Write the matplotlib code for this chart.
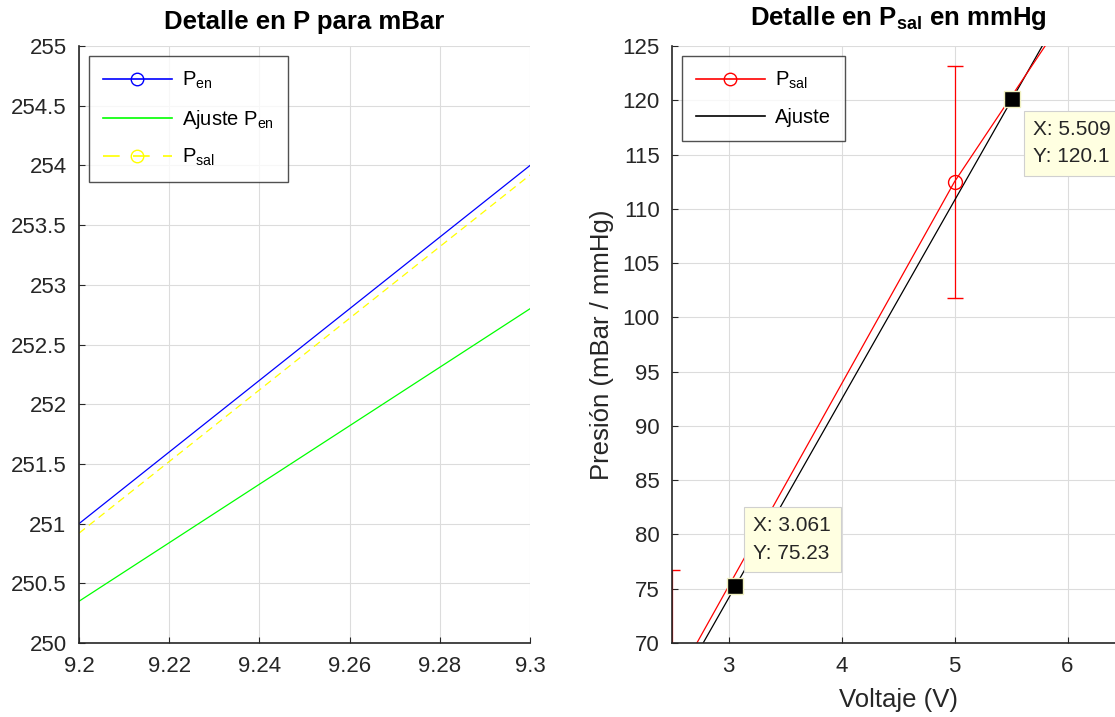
import numpy as np
import matplotlib
matplotlib.use("Agg")
import matplotlib.pyplot as plt
from matplotlib.lines import Line2D

plt.rcParams["font.family"] = ["Liberation Sans", "DejaVu Sans"]
plt.rcParams["mathtext.fontset"] = "custom"
plt.rcParams["mathtext.rm"] = "Liberation Sans"
plt.rcParams["mathtext.bf"] = "Liberation Sans:bold"

# --- izquierda: detalle en mBar
x_izq = [9.2, 9.3]
p_en = [251.0, 254.0]
ajuste_p_en = [250.35, 252.8]
p_sal_mbar = [250.92, 253.92]

# --- derecha: detalle en mmHg
v_sal = [2.5, 5.0, 7.5]
p_sal = [65.9, 112.5, 151.5]
err_sal = [10.8, 10.7, 10.7]
v_ajuste = [2.5, 7.0]
p_ajuste = [64.95, 147.43]
tips = [(3.061, 75.23), (5.509, 120.1)]

GRIS = "#262626"
TICK_FS = 16
LAB_FS = 18.5
LEG_FS = 14.5
fig = plt.figure(figsize=(11.15, 7.17), dpi=100)

def estilo(ax):
    for s in ("top", "right"):
        ax.spines[s].set_visible(False)
    for s in ("left", "bottom"):
        ax.spines[s].set_color(GRIS)
        ax.spines[s].set_linewidth(1.2)
    ax.tick_params(direction="in", colors=GRIS, labelsize=TICK_FS, length=4, pad=9)
    ax.grid(True, color="#dcdcdc", linewidth=0.8)
    ax.set_axisbelow(True)

def leyenda(ax, handles):
    leg = ax.legend(handles=handles, loc="upper left", fontsize=LEG_FS, frameon=True,
                    fancybox=False, edgecolor=GRIS, handlelength=3.4, numpoints=1,
                    borderaxespad=0.5, borderpad=0.7, labelspacing=0.8, handletextpad=0.5)
    leg.get_frame().set_linewidth(1.0)
    return leg

# ---------------- izquierda
ax1 = fig.add_axes([0.0709, 0.1032, 0.4045, 0.8326])
ax1.plot(x_izq, p_en, "-", color="blue", lw=0.9)
ax1.plot(x_izq, ajuste_p_en, "-", color="#00ff00", lw=0.9)
ax1.plot(x_izq, p_sal_mbar, "--", color="yellow", lw=0.9, dashes=(6, 4))
ax1.set_xlim(9.2, 9.3)
ax1.set_ylim(250, 255)
yt = np.arange(250, 255.01, 0.5)
ax1.set_yticks(yt)
ax1.set_yticklabels(["%g" % v for v in yt])
xt = [9.2, 9.22, 9.24, 9.26, 9.28, 9.3]
ax1.set_xticks(xt)
ax1.set_xticklabels(["%g" % v for v in xt])
estilo(ax1)
ax1.set_title("Detalle en P para mBar", fontsize=LAB_FS, fontweight="bold", pad=12, color="black")
leyenda(ax1, [
    Line2D([], [], color="blue", lw=1.2, marker="o", mfc="none", ms=9, label=r"P$_{\mathrm{en}}$"),
    Line2D([], [], color="#00ff00", lw=1.2, label=r"Ajuste P$_{\mathrm{en}}$"),
    Line2D([], [], color="yellow", lw=1.2, ls=(0, (10, 8)), marker="o", mfc="none", ms=9,
           label=r"P$_{\mathrm{sal}}$"),
])

# ---------------- derecha
ax2 = fig.add_axes([0.6027, 0.1032, 0.4054, 0.8326])
ax2.errorbar(v_sal, p_sal, yerr=err_sal, color="red", lw=0.9, marker="o", mfc="none",
             ms=10, capsize=5.5, elinewidth=0.9)
ax2.plot(v_ajuste, p_ajuste, "-", color="black", lw=0.9)
for tx, ty in tips:
    ax2.plot(tx, ty, "s", color="black", mec="#f0f0c0", ms=11, zorder=5)
caja = dict(boxstyle="square,pad=0.45", fc="#ffffe1", ec="#d0d0d0", lw=0.8)
ax2.annotate("X: %.3f\nY: %.2f" % tips[0], tips[0], xytext=(13, 17), textcoords="offset points",
             fontsize=15, color=GRIS, va="bottom", ha="left", linespacing=1.55, bbox=caja)
ax2.annotate("X: %.3f\nY: %.1f" % tips[1], tips[1], xytext=(15, -15), textcoords="offset points",
             fontsize=15, color=GRIS, va="top", ha="left", linespacing=1.55, bbox=caja,
             annotation_clip=False)
ax2.set_xlim(2.5, 6.5)
ax2.set_ylim(70, 125)
ax2.set_xticks([3, 4, 5, 6])
ax2.set_yticks(np.arange(70, 126, 5))
estilo(ax2)
ax2.set_xlabel("Voltaje (V)", fontsize=LAB_FS, color=GRIS, labelpad=8)
ax2.set_ylabel("Presión (mBar / mmHg)", fontsize=LAB_FS, color=GRIS, labelpad=6)
ax2.set_title(r"Detalle en P$_{\mathbf{sal}}$ en mmHg", fontsize=LAB_FS, fontweight="bold",
              pad=15, color="black")
leyenda(ax2, [
    Line2D([], [], color="red", lw=1.2, marker="o", mfc="none", ms=9, label=r"P$_{\mathrm{sal}}$"),
    Line2D([], [], color="black", lw=1.2, label="Ajuste"),
])

fig.savefig("out.png", dpi=100)
